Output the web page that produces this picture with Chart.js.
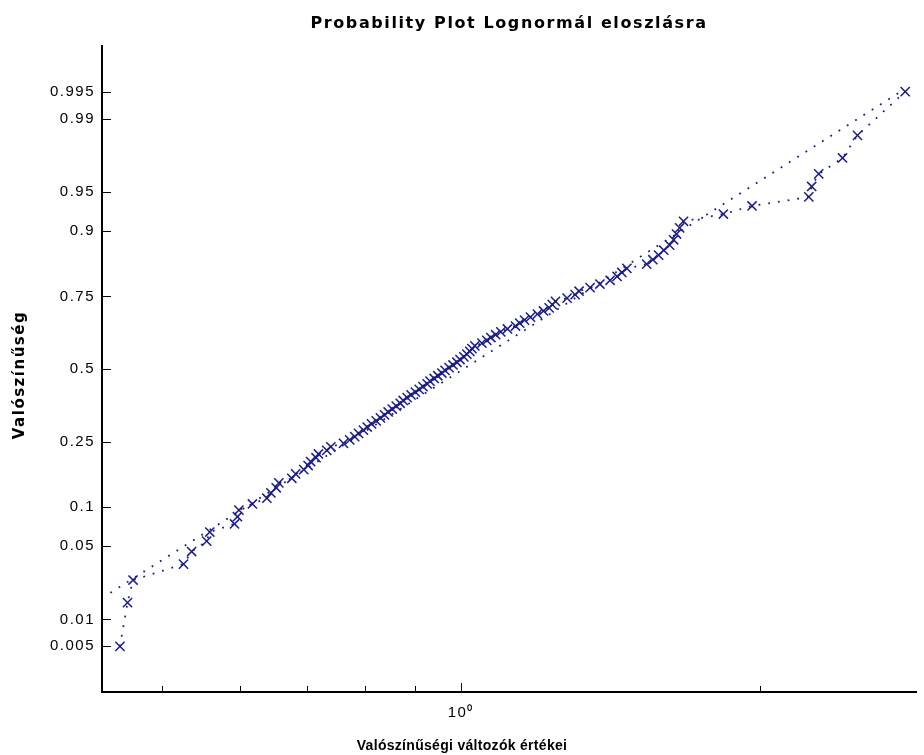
<!DOCTYPE html>
<html>
<head>
<meta charset="utf-8">
<title>Probability Plot Lognormál eloszlásra</title>
<script src="https://cdn.jsdelivr.net/npm/chart.js@4.4.0/dist/chart.umd.min.js"></script>
<style>
  html, body { margin: 0; padding: 0; background: #fff; }
  #wrap { width: 924px; height: 755px; }
</style>
</head>
<body>
<div id="wrap"><canvas id="prob-plot" width="924" height="755"></canvas></div>
<script>
// -----------DATA----------
// sorted sample values
const sampleValues = [
  0.454, 0.462, 0.468, 0.526, 0.536, 0.555, 0.559, 0.592, 0.596, 0.598,
  0.617, 0.638, 0.644, 0.652, 0.656, 0.676, 0.682, 0.695, 0.702, 0.706,
  0.715, 0.719, 0.733, 0.740, 0.762, 0.773, 0.782, 0.789, 0.798, 0.805,
  0.813, 0.822, 0.830, 0.838, 0.845, 0.853, 0.861, 0.869, 0.875, 0.883,
  0.891, 0.900, 0.908, 0.916, 0.925, 0.931, 0.940, 0.948, 0.957, 0.964,
  0.973, 0.982, 0.991, 0.998, 1.007, 1.014, 1.021, 1.026, 1.033, 1.050,
  1.062, 1.072, 1.084, 1.097, 1.114, 1.135, 1.146, 1.159, 1.175, 1.194,
  1.211, 1.227, 1.236, 1.245, 1.279, 1.303, 1.315, 1.349, 1.380, 1.413,
  1.436, 1.452, 1.469, 1.538, 1.560, 1.581, 1.600, 1.622, 1.637, 1.648,
  1.660, 1.675, 1.837, 1.963, 2.239, 2.254, 2.291, 2.421, 2.506, 2.799,
];
// plotting positions (probabilities) of the sorted values
const plotPositions = [
  0.005, 0.015, 0.025, 0.035, 0.045, 0.055, 0.065, 0.075, 0.085, 0.095,
  0.105, 0.115, 0.125, 0.135, 0.145, 0.155, 0.165, 0.175, 0.185, 0.195,
  0.205, 0.215, 0.225, 0.235, 0.245, 0.255, 0.265, 0.275, 0.285, 0.295,
  0.305, 0.315, 0.325, 0.335, 0.345, 0.355, 0.365, 0.375, 0.385, 0.395,
  0.405, 0.415, 0.425, 0.435, 0.445, 0.455, 0.465, 0.475, 0.485, 0.495,
  0.505, 0.515, 0.525, 0.535, 0.545, 0.555, 0.565, 0.575, 0.585, 0.595,
  0.605, 0.615, 0.625, 0.635, 0.645, 0.655, 0.665, 0.675, 0.685, 0.695,
  0.705, 0.715, 0.725, 0.735, 0.745, 0.755, 0.765, 0.775, 0.785, 0.795,
  0.805, 0.815, 0.825, 0.835, 0.845, 0.855, 0.865, 0.875, 0.885, 0.895,
  0.905, 0.915, 0.925, 0.935, 0.945, 0.955, 0.965, 0.975, 0.985, 0.995,
];
// fitted lognormal reference line (end points)
const fitValues = [0.444, 2.77];
const fitPositions = [0.0188, 0.995];

// axis ticks
const probTicks = [0.005, 0.01, 0.05, 0.1, 0.25, 0.5, 0.75, 0.9, 0.95, 0.99, 0.995];
const probTickLabels = ["0.005", "0.01", "0.05", "0.1", "0.25", "0.5", "0.75", "0.9", "0.95", "0.99", "0.995"];
const xTicks = [0.5, 0.6, 0.7, 0.8, 0.9, 1, 2];

const markColor = "rgb(28, 28, 135)";

// inverse standard normal CDF (Acklam) - probability axis is linear in z
function normInv(p) {
  const a = [-3.969683028665376e1, 2.209460984245205e2, -2.759285104469687e2, 1.38357751867269e2, -3.066479806614716e1, 2.506628277459239];
  const b = [-5.447609879822406e1, 1.615858368580409e2, -1.556989798598866e2, 6.680131188771972e1, -1.328068155288572e1];
  const c = [-7.784894002430293e-3, -3.223964580411365e-1, -2.400758277161838, -2.549732539343734, 4.374664141464968, 2.938163982698783];
  const d = [7.784695709041462e-3, 3.224671290700398e-1, 2.445134137142996, 3.754408661907416];
  const pLow = 0.02425;
  let q, r;
  if (p < pLow) {
    q = Math.sqrt(-2 * Math.log(p));
    return (((((c[0] * q + c[1]) * q + c[2]) * q + c[3]) * q + c[4]) * q + c[5]) / ((((d[0] * q + d[1]) * q + d[2]) * q + d[3]) * q + 1);
  }
  if (p <= 1 - pLow) {
    q = p - 0.5;
    r = q * q;
    return ((((((a[0] * r + a[1]) * r + a[2]) * r + a[3]) * r + a[4]) * r + a[5]) * q) / (((((b[0] * r + b[1]) * r + b[2]) * r + b[3]) * r + b[4]) * r + 1);
  }
  q = Math.sqrt(-2 * Math.log(1 - p));
  return -(((((c[0] * q + c[1]) * q + c[2]) * q + c[3]) * q + c[4]) * q + c[5]) / ((((d[0] * q + d[1]) * q + d[2]) * q + d[3]) * q + 1);
}

const samplePoints = sampleValues.map((v, i) => ({ x: v, y: normInv(plotPositions[i]) }));
const fitPoints = fitValues.map((v, i) => ({ x: v, y: normInv(fitPositions[i]) }));

// -------------------PLUGINS---------------------------
// Tick marks pointing into the plot area
const inwardTicks = {
  id: "inwardTicks",
  beforeDraw(chart) {
    chart.ctx.letterSpacing = "1.5px";
  },
  afterDraw(chart) {
    const { ctx, chartArea, scales } = chart;
    ctx.save();
    ctx.strokeStyle = "#000";
    ctx.lineWidth = 1;
    ctx.beginPath();
    scales.y.ticks.forEach((t) => {
      const y = Math.round(scales.y.getPixelForValue(t.value)) + 0.5;
      ctx.moveTo(chartArea.left, y);
      ctx.lineTo(chartArea.left + 9, y);
    });
    scales.x.ticks.forEach((t) => {
      const x = Math.round(scales.x.getPixelForValue(t.value)) + 0.5;
      const len = t.value === 1 ? 9 : 6;
      ctx.moveTo(x, chartArea.bottom);
      ctx.lineTo(x, chartArea.bottom - len);
    });
    ctx.stroke();
    ctx.restore();
  },
};

// Title and axis titles
const plotTitles = {
  id: "plotTitles",
  afterDraw(chart) {
    const { ctx, chartArea } = chart;
    const mid = (chartArea.left + chartArea.right) / 2;
    ctx.save();
    ctx.fillStyle = "#000";
    ctx.textAlign = "center";
    ctx.textBaseline = "alphabetic";

    ctx.font = "bold 16px 'DejaVu Sans', sans-serif";
    ctx.letterSpacing = "1.6px";
    ctx.fillText("Probability Plot Lognormál eloszlásra", mid, 28);

    ctx.font = "bold 14px 'Liberation Sans', Arial, sans-serif";
    ctx.letterSpacing = "0.3px";
    ctx.fillText("Valószínűségi változók értékei", 462, 750);

    ctx.translate(24, (chartArea.top + chartArea.bottom) / 2 + 6);
    ctx.rotate(-Math.PI / 2);
    ctx.font = "bold 15px 'DejaVu Sans', sans-serif";
    ctx.letterSpacing = "1.5px";
    ctx.fillText("Valószínűség", 0, 0);
    ctx.restore();
  },
};

// -------------------CHART---------------------------
const tickFont = { family: "'Liberation Sans', Arial, sans-serif", size: 15 };

const probPlot = new Chart(document.getElementById("prob-plot"), {
  type: "scatter",
  data: {
    datasets: [
      {
        label: "minta",
        data: samplePoints,
        showLine: true,
        borderColor: markColor,
        borderWidth: 1.8,
        borderDash: [1.8, 8],
        pointStyle: "crossRot",
        pointRadius: 6.5,
        pointBorderWidth: 1.5,
        pointBorderColor: markColor,
        pointBackgroundColor: markColor,
        clip: false,
      },
      {
        label: "illesztés",
        data: fitPoints,
        showLine: true,
        borderColor: markColor,
        borderWidth: 1.8,
        borderDash: [1.8, 8],
        pointRadius: 0,
        clip: false,
      },
    ],
  },
  options: {
    responsive: false,
    animation: false,
    devicePixelRatio: 1,
    layout: {
      padding: { left: 0, right: 4, top: 46, bottom: 0 },
    },
    plugins: {
      legend: { display: false },
      tooltip: { enabled: false },
    },
    scales: {
      x: {
        type: "logarithmic",
        min: 0.4355,
        max: 2.87,
        afterBuildTicks: (scale) => {
          scale.ticks = xTicks.map((v) => ({ value: v, major: v === 1 }));
        },
        afterFit: (scale) => {
          scale.height = 63;
        },
        grid: { display: false, drawTicks: false },
        border: { display: true, color: "#000", width: 2 },
        ticks: {
          autoSkip: false,
          maxRotation: 0,
          padding: 12,
          color: "#000",
          font: tickFont,
          callback: (value) => (value === 1 ? "10\u2070" : ""),
        },
      },
      y: {
        type: "linear",
        min: -3,
        max: 3,
        afterBuildTicks: (scale) => {
          scale.ticks = probTicks.map((p) => ({ value: normInv(p) }));
        },
        afterFit: (scale) => {
          scale.width = 102;
        },
        grid: { display: false, drawTicks: false },
        border: { display: true, color: "#000", width: 2 },
        ticks: {
          autoSkip: false,
          padding: 7,
          color: "#000",
          font: tickFont,
          callback: (value, index) => probTickLabels[index],
        },
      },
    },
  },
  plugins: [inwardTicks, plotTitles],
});
</script>
</body>
</html>
